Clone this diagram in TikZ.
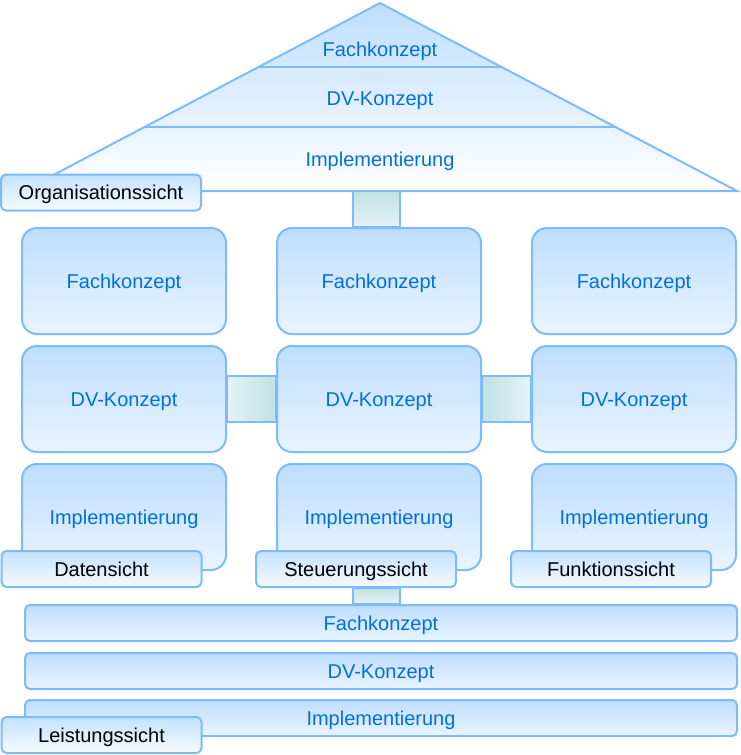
\documentclass[tikz,border=0pt]{standalone}
\usepackage{fontspec}
\setmainfont{Liberation Sans}
\usetikzlibrary{positioning,calc}
\definecolor{rim}{RGB}{125,187,255}
\definecolor{boxtop}{RGB}{190,222,255}
\definecolor{boxbot}{RGB}{234,244,255}
\definecolor{tagtop}{RGB}{196,225,255}
\definecolor{tagbot}{RGB}{246,251,255}
\definecolor{ink}{RGB}{0,112,224}
\definecolor{linkdark}{RGB}{192,225,226}
\definecolor{linklight}{RGB}{230,243,245}

\begin{document}
\begin{tikzpicture}[x=1pt, y=-1pt, node distance=10pt and 49pt,
    box/.style={rectangle, draw=rim, line width=2pt, top color=boxtop, bottom color=boxbot, text=ink, rounded corners=15pt, minimum width=204pt, minimum height=106pt, text height=14.5pt, text depth=0pt, font=\fontsize{20}{24}\selectfont},
    bar/.style={box, rounded corners=5pt, minimum width=712pt, minimum height=36pt},
    sicht/.style={rectangle, draw=rim, line width=2pt, top color=tagtop, bottom color=tagbot, text=black, rounded corners=5pt, minimum width=200pt, minimum height=36pt, text height=14.5pt, text depth=0pt, font=\fontsize{20}{24}\selectfont},
    rooftext/.style={text=ink, text height=14.5pt, text depth=0pt, font=\fontsize{20}{24}\selectfont},
    linkv/.style={draw=rim, line width=1.5pt, top color=linkdark, bottom color=linklight},
    linkl/.style={draw=rim, line width=1.5pt, left color=linklight, right color=linkdark},
    linkr/.style={draw=rim, line width=1.5pt, left color=linkdark, right color=linklight}]

    \useasboundingbox (0,0) rectangle (741,755);

    % Roof
    \coordinate (apex) at (380,3);
    \coordinate (roofl) at (23,191);
    \coordinate (roofr) at (737,191);
    \path [top color=boxtop, bottom color=white] (apex) -- (roofr) -- (roofl) -- cycle;
    \draw [rim, line width=2pt] ($(apex)!0.34!(roofl)$) -- ($(apex)!0.34!(roofr)$);
    \draw [rim, line width=2pt] ($(apex)!0.66!(roofl)$) -- ($(apex)!0.66!(roofr)$);
    \draw [rim, line width=2pt, line join=miter] (apex) -- (roofr) -- (roofl) -- cycle;
    \node [rooftext] (rfach) at (380,49) {Fachkonzept};
    \node [rooftext] (rdv) at (380,98) {DV-Konzept};
    \node [rooftext] (rimpl) at (380,159) {Implementierung};

    % Columns
    \node [box] (f1) at (124,281) {Fachkonzept};
    \node [box, right=of f1] (f2) {Fachkonzept};
    \node [box, right=of f2] (f3) {Fachkonzept};
    \node [box, below=of f1] (d1) {DV-Konzept};
    \node [box, below=of f2] (d2) {DV-Konzept};
    \node [box, below=of f3] (d3) {DV-Konzept};
    \node [box, below=of d1] (i1) {Implementierung};
    \node [box, below=of d2] (i2) {Implementierung};
    \node [box, below=of d3] (i3) {Implementierung};

    % Bottom bars
    \node [bar] (bfach) at (381,623) {Fachkonzept};
    \node [bar, below=of bfach] (bdv) {DV-Konzept};
    \node [bar, below=9pt of bdv] (bimpl) {Implementierung};

    % Links
    \path [linkv] ([xshift=-26pt]f2.north |- roofl) rectangle ([xshift=21pt]f2.north);
    \path [linkl] ([yshift=23pt]d1.east) rectangle ([yshift=-23pt]d2.west);
    \path [linkr] ([yshift=23pt]d2.east) rectangle ([yshift=-23pt]d3.west);

    % Views
    \node [sicht] (orga) at (101,192.5) {Organisationssicht};
    \node [sicht] (daten) at (101.5,569) {Datensicht};
    \node [sicht] (steuer) at (356,569) {Steuerungssicht};
    \node [sicht] (funk) at (611,569) {Funktionssicht};
    \node [sicht] (leist) at (101.5,735) {Leistungssicht};

    \path [linkv] ([xshift=-26pt]i2.center |- steuer.south) rectangle ([xshift=21pt]i2.center |- bfach.north);

\end{tikzpicture}
\end{document}
